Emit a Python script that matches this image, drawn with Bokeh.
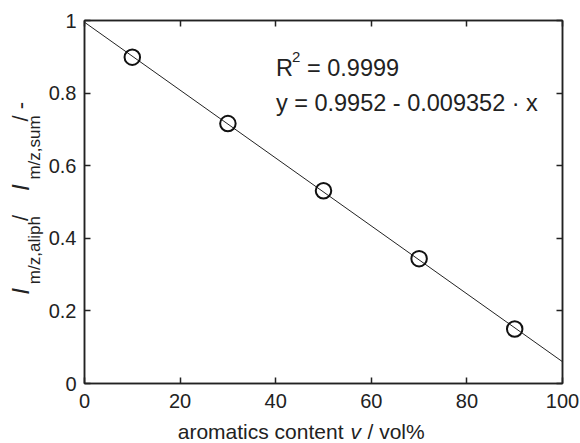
import numpy as np
from bokeh.plotting import figure
from bokeh.layouts import row, column
from bokeh.models import Range1d, LinearAxis, Label, FixedTicker
from bokeh.core.properties import value
from bokeh.embed import file_html
from bokeh.resources import INLINE

# data
x_vals = [10, 30, 50, 70, 90]
y_vals = [0.899, 0.716, 0.531, 0.344, 0.150]
intercept = 0.9952
slope = -0.009352
fit_x = [0, 100]
x_ticks = [0, 20, 40, 60, 80, 100]
y_ticks = [0, 0.2, 0.4, 0.6, 0.8, 1]
x_tick_labels = ["0", "20", "40", "60", "80", "100"]
y_tick_labels = ["0", "0.2", "0.4", "0.6", "0.8", "1"]

FONT = "Liberation Sans"
FS = "20px"
TXT = "#222222"

W, H = 580, 443
LW = 44   # width of y-label strip
BH = 30   # height of x-label strip
PH = H - BH

p = figure(width=W - LW, height=PH, output_backend="svg", toolbar_location=None,
           x_range=Range1d(0, 100), y_range=Range1d(0, 1),
           min_border_left=84 - LW, min_border_right=18, min_border_top=20,
           min_border_bottom=PH - 383)
p.background_fill_color = "white"
p.border_fill_color = "white"
p.outline_line_color = TXT
p.outline_line_width = 1.5
p.grid.visible = False

def style_axis(ax, show_labels=True):
    ax.axis_line_color = TXT
    ax.axis_line_width = 1.5
    ax.major_tick_in = 6
    ax.major_tick_out = 0
    ax.minor_tick_line_color = None
    ax.major_tick_line_color = TXT
    ax.major_tick_line_width = 1.5
    ax.major_label_text_font = FONT
    ax.major_label_text_font_size = FS
    ax.major_label_text_color = TXT
    ax.major_label_standoff = 8
    if not show_labels:
        ax.major_label_text_font_size = "1px"
        ax.major_label_text_color = None
        ax.major_label_standoff = 0

p.xaxis.ticker = FixedTicker(ticks=x_ticks)
p.yaxis.ticker = FixedTicker(ticks=y_ticks)
p.xaxis.major_label_overrides = dict(zip(x_ticks, x_tick_labels))
p.yaxis.major_label_overrides = dict(zip(y_ticks, y_tick_labels))
style_axis(p.xaxis[0])
style_axis(p.yaxis[0])
p.xaxis.major_label_standoff = 10

top_ax = LinearAxis(ticker=FixedTicker(ticks=x_ticks))
right_ax = LinearAxis(ticker=FixedTicker(ticks=y_ticks))
style_axis(top_ax, False)
style_axis(right_ax, False)
p.add_layout(top_ax, "above")
p.add_layout(right_ax, "right")

# fit line
p.line(fit_x, [intercept + slope * v for v in fit_x], line_color=TXT, line_width=1)
# markers
p.scatter(x_vals, y_vals, marker="circle", size=15.5, fill_color=None,
          line_color="#111111", line_width=2)

# annotation text inside the frame (data units)
def sx(px):
    return (px - 84) / 477 * 100

def sy(py):
    return 1 - (py - 20) / 363

def lab(text, x, y, size="23.5px", style="normal"):
    p.add_layout(Label(x=x, y=y, text=text, text_font=FONT, text_font_size=size,
                       text_font_style=style, text_color=TXT,
                       text_align="left", text_baseline="alphabetic"))

lab("R", sx(275), sy(67))
lab("2", sx(291), sy(56), size="15px")
lab("= 0.9999", sx(306), sy(67))
lab("y = 0.9952 - 0.009352 \u00b7 x", sx(275), sy(102))

# y-axis label strip (pixel coordinates, origin bottom-left of strip)
yl = figure(width=LW, height=PH, output_backend="svg", toolbar_location=None,
            x_range=Range1d(0, LW), y_range=Range1d(0, PH),
            min_border=0, x_axis_type=None, y_axis_type=None)
yl.outline_line_color = None
yl.grid.visible = False
yl.background_fill_color = "white"
yl.border_fill_color = "white"

def ytxt(text, x, ys, size, style="normal"):
    yl.text(x=[x], y=[PH - ys], text=[text], angle=np.pi / 2, text_font=value(FONT),
            text_font_size=value(size), text_font_style=style, text_color=TXT,
            text_align="left", text_baseline="middle")

ytxt("I", 20, 312, "24px", "italic")
ytxt("m/z,aliph", 34, 300, "17px")
ytxt("/", 20, 228, "22px")
ytxt("I", 20, 194, "24px", "italic")
ytxt("m/z,sum", 34, 181, "17px")
ytxt("/ -", 20, 115, "22px")

# x-axis label strip (origin bottom-left of strip)
xl = figure(width=W, height=BH, output_backend="svg", toolbar_location=None,
            x_range=Range1d(0, W), y_range=Range1d(0, BH),
            min_border=0, x_axis_type=None, y_axis_type=None)
xl.outline_line_color = None
xl.grid.visible = False
xl.background_fill_color = "white"
xl.border_fill_color = "white"

def xtxt(text, x, align="left", style="normal"):
    xl.text(x=[x], y=[H - 431], text=[text], text_font=value(FONT),
            text_font_size=value("21px"), text_font_style=style, text_color=TXT,
            text_align=align, text_baseline="middle")

xtxt("aromatics content", 343, "right")
xtxt("v", 350, "left", "italic")
xtxt("/ vol%", 367, "left")

layout = column(row(yl, p, spacing=0), xl, spacing=0)
open("out.html", "w").write(file_html(layout, INLINE))
